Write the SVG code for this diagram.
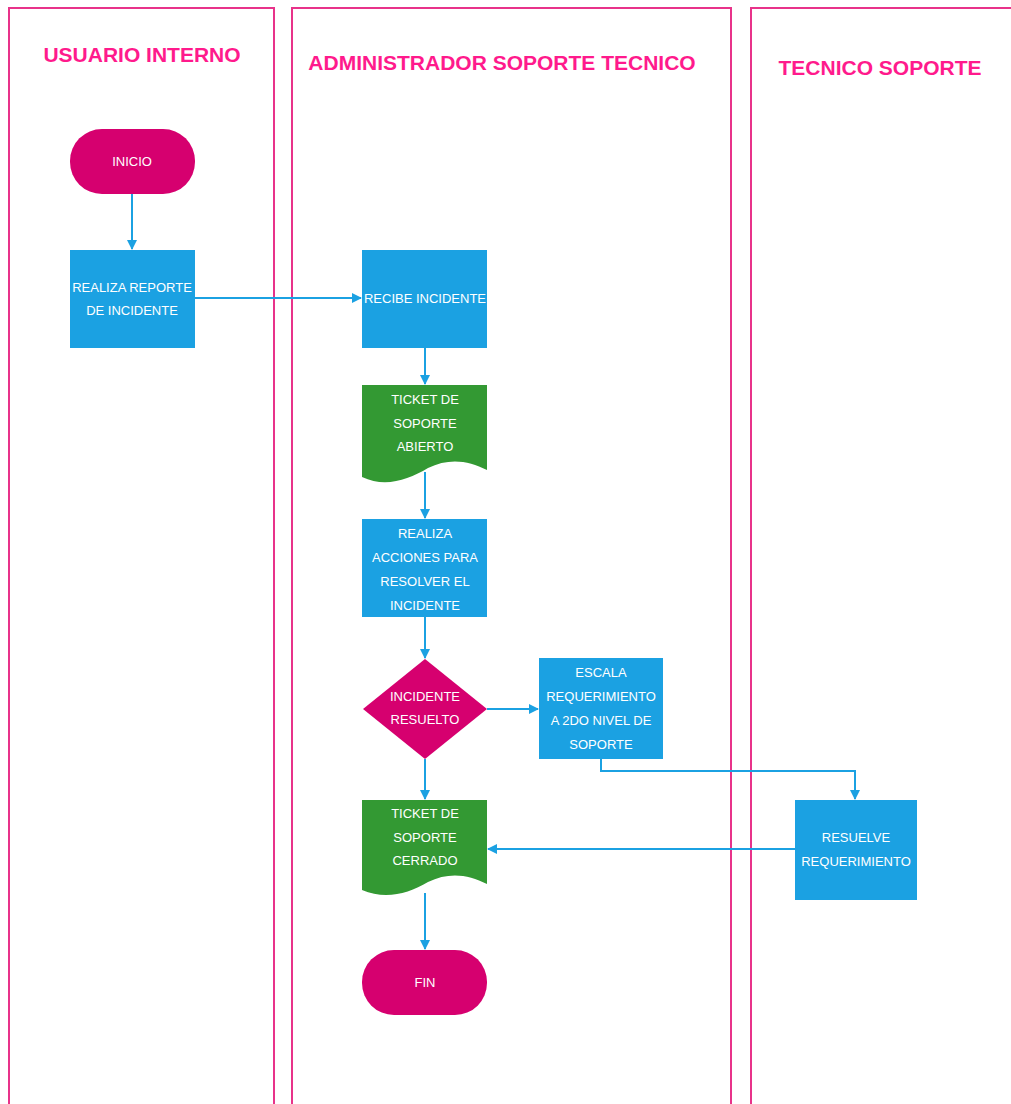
<svg xmlns="http://www.w3.org/2000/svg" width="1011" height="1104" viewBox="0 0 1011 1104">
<defs>
<marker id="ah" markerWidth="10" markerHeight="10" refX="9" refY="5" orient="auto" markerUnits="userSpaceOnUse">
<path d="M0,0 L10,5 L0,10 Z" fill="#1ba1e2"/>
</marker>
<style>
.lane{fill:none;stroke:#e8338a;stroke-width:2}
.title{font-family:"Liberation Sans",Arial,sans-serif;font-weight:bold;font-size:21px;fill:#ff1a8c;text-anchor:middle}
.proc{fill:#1ba1e2}
.term{fill:#d6006f}
.doc{fill:#339933}
.t{font-family:"Liberation Sans",Arial,sans-serif;font-size:13px;fill:#ffffff;text-anchor:middle}
.c{fill:none;stroke:#1ba1e2;stroke-width:2;marker-end:url(#ah)}
</style>
</defs>
<rect width="1011" height="1104" fill="#ffffff"/>
<g id="lanes">
<path class="lane" d="M9,1104 V8 H274 V1104"/>
<path class="lane" d="M292,1104 V8 H731 V1104"/>
<path class="lane" d="M751,1104 V8 H1012"/>
<text class="title" x="142" y="62">USUARIO INTERNO</text>
<text class="title" x="502" y="70">ADMINISTRADOR SOPORTE TECNICO</text>
<text class="title" x="880" y="75">TECNICO SOPORTE</text>
</g>
<g id="connectors">
<path class="c" d="M132,194 V249"/>
<path class="c" d="M195,298 H361"/>
<path class="c" d="M425,348 V384"/>
<path class="c" d="M425,472 V518"/>
<path class="c" d="M425,617 V658"/>
<path class="c" d="M487,709 H538"/>
<path class="c" d="M425,759 V799"/>
<path class="c" d="M601,759 V771 H855 V799"/>
<path class="c" d="M795,849 H488"/>
<path class="c" d="M425,893 V949"/>
</g>
<g id="inicio">
<rect class="term" x="70" y="129" width="125" height="65" rx="32" ry="32"/>
<text class="t" x="132" y="166">INICIO</text>
</g>
<g id="realiza-reporte">
<rect class="proc" x="70" y="250" width="125" height="98"/>
<text class="t" x="132" y="292">REALIZA REPORTE</text>
<text class="t" x="132" y="315">DE INCIDENTE</text>
</g>
<g id="recibe-incidente">
<rect class="proc" x="362" y="250" width="125" height="98"/>
<text class="t" x="425" y="303">RECIBE INCIDENTE</text>
</g>
<g id="ticket-abierto">
<path class="doc" d="M362,385 H487 V470 C468,460 448,458 428,468 C408,480 385,488 362,477 Z"/>
<text class="t" x="425" y="404">TICKET DE</text>
<text class="t" x="425" y="428">SOPORTE</text>
<text class="t" x="425" y="451">ABIERTO</text>
</g>
<g id="realiza-acciones">
<rect class="proc" x="362" y="519" width="125" height="98"/>
<text class="t" x="425" y="538">REALIZA</text>
<text class="t" x="425" y="562">ACCIONES PARA</text>
<text class="t" x="425" y="586">RESOLVER EL</text>
<text class="t" x="425" y="610">INCIDENTE</text>
</g>
<g id="incidente-resuelto">
<path class="term" d="M425,659 L487,709 L425,759 L363,709 Z"/>
<text class="t" x="425" y="701">INCIDENTE</text>
<text class="t" x="425" y="724">RESUELTO</text>
</g>
<g id="escala">
<rect class="proc" x="539" y="658" width="124" height="101"/>
<text class="t" x="601" y="677">ESCALA</text>
<text class="t" x="601" y="701">REQUERIMIENTO</text>
<text class="t" x="601" y="725">A 2DO NIVEL DE</text>
<text class="t" x="601" y="749">SOPORTE</text>
</g>
<g id="ticket-cerrado">
<path class="doc" d="M362,800 H487 V884 C468,874 448,872 428,882 C408,894 385,900 362,890 Z"/>
<text class="t" x="425" y="818">TICKET DE</text>
<text class="t" x="425" y="842">SOPORTE</text>
<text class="t" x="425" y="865">CERRADO</text>
</g>
<g id="resuelve">
<rect class="proc" x="795" y="800" width="122" height="100"/>
<text class="t" x="856" y="842">RESUELVE</text>
<text class="t" x="856" y="866">REQUERIMIENTO</text>
</g>
<g id="fin">
<rect class="term" x="362" y="950" width="125" height="65" rx="32" ry="32"/>
<text class="t" x="425" y="987">FIN</text>
</g>
</svg>
